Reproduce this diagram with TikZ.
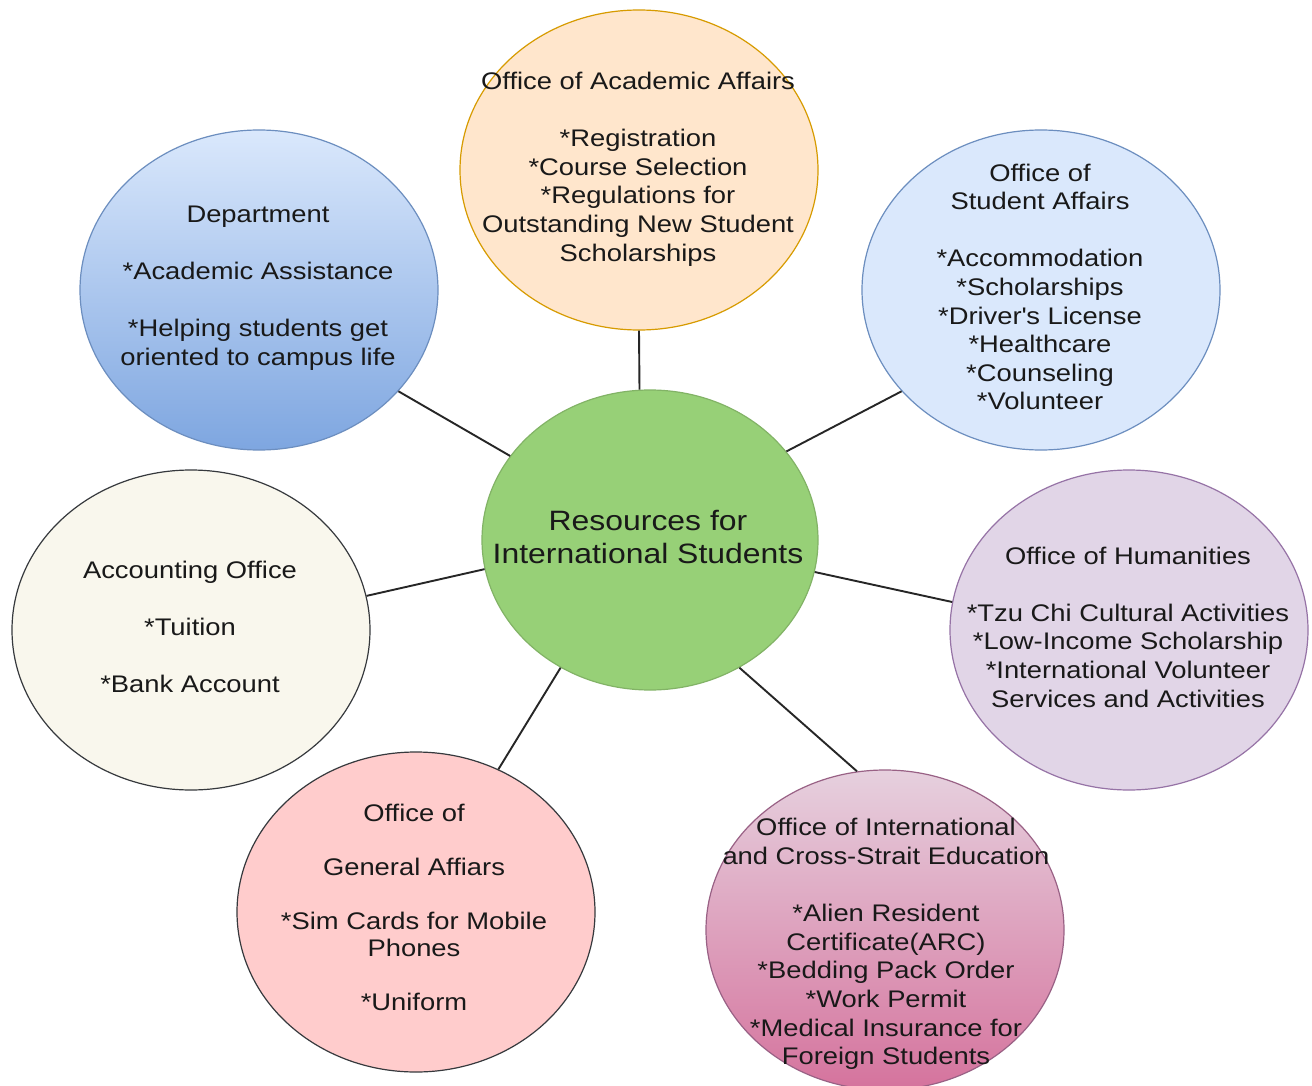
\documentclass[tikz,border=0pt]{standalone}
\usepackage{fontspec}
\setmainfont{Liberation Sans}[FakeStretch=1.14]
\usetikzlibrary{shapes.geometric}
\definecolor{cfill}{HTML}{97D077}\definecolor{cline}{HTML}{82B366}
\definecolor{afill}{HTML}{FFE6CC}\definecolor{aline}{HTML}{D79B00}
\definecolor{btop}{HTML}{DAE8FC}\definecolor{bbot}{HTML}{7EA6E0}\definecolor{bline}{HTML}{6C8EBF}
\definecolor{accfill}{HTML}{F9F7ED}\definecolor{gline}{HTML}{36393D}
\definecolor{hfill}{HTML}{E1D5E7}\definecolor{hline}{HTML}{9673A6}
\definecolor{gfill}{HTML}{FFCCCC}
\definecolor{itop}{HTML}{E6D0DE}\definecolor{ibot}{HTML}{D5739D}\definecolor{iline}{HTML}{996185}
\definecolor{conn}{HTML}{262626}
\tikzset{
  bubble/.style={ellipse, minimum width=358pt, minimum height=320pt, inner sep=0pt, line width=1.2pt},
  hub/.style={ellipse, minimum width=336pt, minimum height=300pt, inner sep=0pt, line width=1.2pt, draw=cline, fill=cfill},
  txt/.style={align=center, inner sep=0pt, font=\fontsize{24}{28.6}\selectfont, text=black!90},
  link/.style={draw=conn, line width=1.9pt}
}
\begin{document}
\begin{tikzpicture}[x=1pt,y=-1pt]
\useasboundingbox[fill=white] (0,0) rectangle (1312,1086);
% shapes
\node[hub] (C) at (650,540) {};
\node[bubble, draw=aline, fill=afill] (A) at (639,170) {};
\node[bubble, draw=bline, top color=btop, bottom color=bbot] (D) at (259,290) {};
\node[bubble, draw=bline, fill=btop] (S) at (1041,290) {};
\node[bubble, draw=gline, fill=accfill] (Acc) at (191,630) {};
\node[bubble, draw=hline, fill=hfill] (H) at (1129,630) {};
\node[bubble, draw=gline, fill=gfill] (G) at (416,912) {};
\node[bubble, draw=iline, top color=itop, bottom color=ibot] (I) at (885,930) {};
% texts
\node[txt, font=\fontsize{28}{33}\selectfont] (Ct) at (648,537) {Resources for\\International Students};
\node[txt] (At) at (638,169) {Office of Academic Affairs\\[28.6pt]*Registration\\*Course Selection\\*Regulations for\\Outstanding New Student\\Scholarships};
\node[txt] (Dt) at (258,288) {Department\\[28.6pt]*Academic Assistance\\[28.6pt]*Helping students get\\oriented to campus life};
\node[txt] (St) at (1040,287) {Office of\\Student Affairs\\[28.6pt]*Accommodation\\*Scholarships\\*Driver\textquotesingle s License\\*Healthcare\\*Counseling\\*Volunteer};
\node[txt] (Acct) at (190,627) {Accounting Office\\[28.6pt]*Tuition\\[28.6pt]*Bank Account};
\node[txt] (Ht) at (1128,627) {Office of Humanities\\[28.6pt]*Tzu Chi Cultural Activities\\*Low-Income Scholarship\\*International Volunteer\\Services and Activities};
\node[txt, font=\fontsize{24}{27}\selectfont] (Gt) at (414,907) {Office of\\[27pt]General Affiars\\[27pt]*Sim Cards for Mobile\\Phones\\[27pt]*Uniform};
\node[txt] (It) at (886,944) {Office of International\\and Cross-Strait Education\\[28.6pt]*Alien Resident\\Certificate(ARC)\\*Bedding Pack Order\\*Work Permit\\*Medical Insurance for\\Foreign Students};
% connectors
\draw[link] (C.94) -- (A.270);
\draw[link] (C.149.3) -- (D.-36.1);
\draw[link] (C.33.1) -- (S.216.3);
\draw[link] (C.190.8) -- (Acc.11.2);
\draw[link] (C.-11.1) -- (H.171.6);
\draw[link] (C.235.1) -- (G.60.3);
\draw[link] (C.-55.7) -- (I.100.4);
\end{tikzpicture}
\end{document}
